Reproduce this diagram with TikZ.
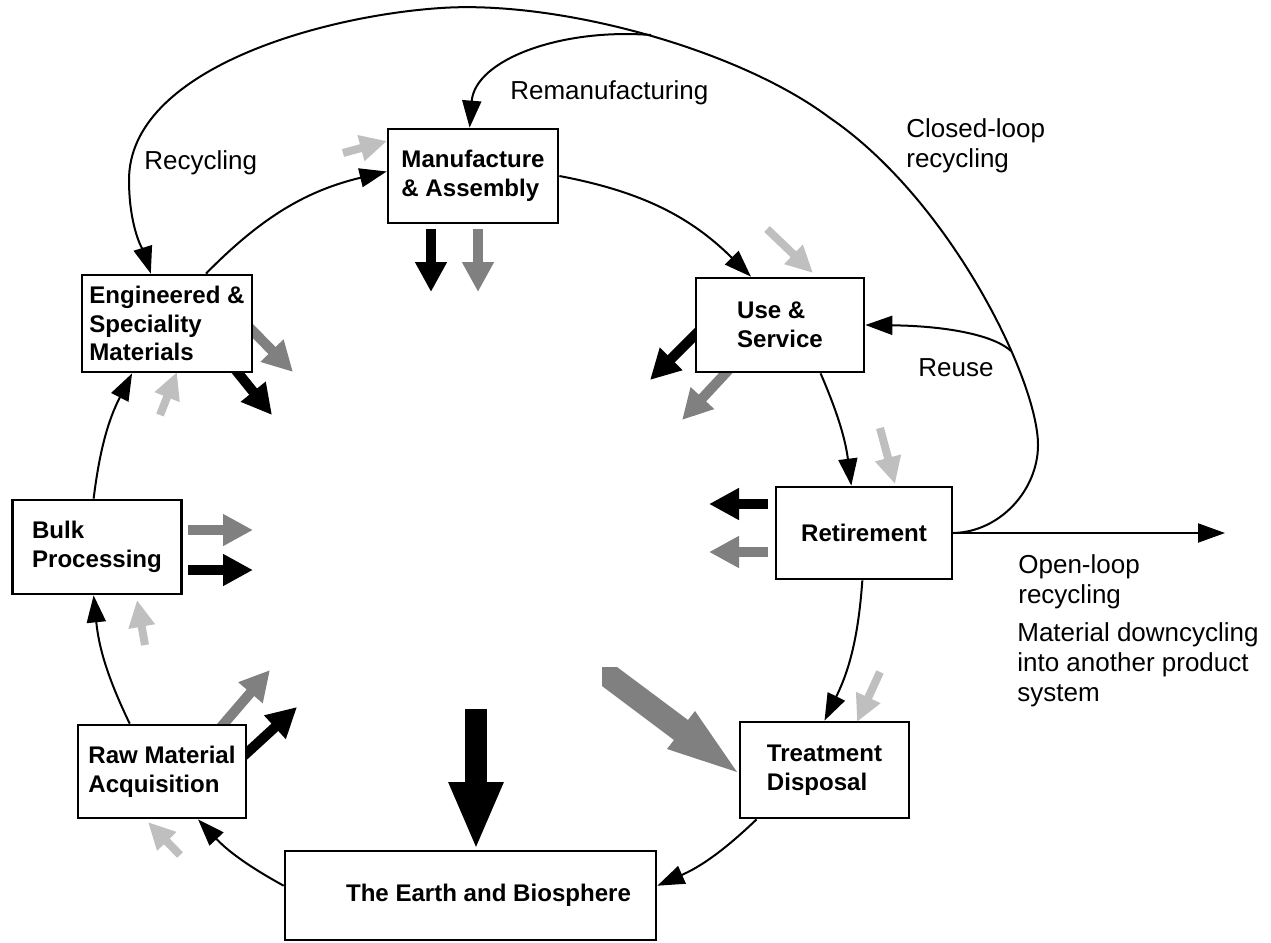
\documentclass[tikz,border=0pt]{standalone}
\usepackage{fontspec}
\setmainfont{Liberation Sans}
\usetikzlibrary{arrows.meta}
\definecolor{dgray}{RGB}{128,128,128}
\definecolor{lgray}{RGB}{191,191,191}
\begin{document}
\begin{tikzpicture}[x=0.02cm,y=0.02cm,
  box/.style={draw=black,line width=0.055cm,fill=white,align=left,inner sep=0pt,
    font=\fontsize{13.7}{16.3}\selectfont\bfseries},
  conn/.style={draw=black,line width=0.04cm,-{Triangle[length=0.54cm,width=0.38cm]}},
  lbl/.style={align=left,anchor=west,inner sep=0pt,font=\fontsize{14.8}{17}\selectfont},
  lite/.style={draw=lgray,color=lgray,line width=0.16cm,-{Triangle[length=0.54cm,width=0.5cm]}},
  med/.style={line width=0.2cm,-{Triangle[length=0.6cm,width=0.6cm]}},
  bigarr/.style={line width=0.44cm,-{Triangle[length=1.36cm,width=1.0cm]}}]

\fill[white] (0,0) rectangle (1271,-943);
\useasboundingbox (0,0) rectangle (1271,-943);

% ---------- free-standing flow arrows: coordinates ----------
\coordinate (l1s) at (343,-153); \coordinate (l1t) at (387,-141);
\coordinate (l2s) at (767,-229); \coordinate (l2t) at (813,-273);
\coordinate (l3s) at (880,-428); \coordinate (l3t) at (895,-484);
\coordinate (l4s) at (880,-672); \coordinate (l4t) at (857,-722);
\coordinate (l5s) at (180,-855); \coordinate (l5t) at (148,-822);
\coordinate (l6s) at (145,-645); \coordinate (l6t) at (137,-600);
\coordinate (l7s) at (160,-415); \coordinate (l7t) at (177,-372);

\coordinate (m1s) at (431,-229); \coordinate (m1t) at (431,-292);
\coordinate (m2s) at (478,-229); \coordinate (m2t) at (478,-292);
\coordinate (m3s) at (712,-318); \coordinate (m3t) at (650,-380);
\coordinate (m4s) at (736,-362); \coordinate (m4t) at (682,-420);
\coordinate (m5s) at (768,-504); \coordinate (m5t) at (709,-504);
\coordinate (m6s) at (768,-552); \coordinate (m6t) at (709,-552);
\coordinate (m7s) at (215,-734); \coordinate (m7t) at (270,-670);
\coordinate (m8s) at (237,-762); \coordinate (m8t) at (297,-707);
\coordinate (m9s) at (188,-530); \coordinate (m9t) at (253,-530);
\coordinate (m10s) at (188,-570); \coordinate (m10t) at (253,-570);
\coordinate (m11s) at (245,-323); \coordinate (m11t) at (293,-372);
\coordinate (m12s) at (230,-363); \coordinate (m12t) at (272,-415);

\coordinate (b1s) at (476,-709); \coordinate (b1t) at (476,-850);

% light grey inputs
\foreach \i in {1,...,7} \draw[lite] (l\i s) -- (l\i t);
% medium outputs
\draw[med,black] (m1s) -- (m1t);
\draw[med,dgray] (m2s) -- (m2t);
\draw[med,black] (m3s) -- (m3t);
\draw[med,dgray] (m4s) -- (m4t);
\draw[med,black] (m5s) -- (m5t);
\draw[med,dgray] (m6s) -- (m6t);
\draw[med,dgray] (m7s) -- (m7t);
\draw[med,black] (m8s) -- (m8t);
\draw[med,dgray] (m9s) -- (m9t);
\draw[med,black] (m10s) -- (m10t);
\draw[med,dgray] (m11s) -- (m11t);
\draw[med,black] (m12s) -- (m12t);
% big arrows
\draw[bigarr,black] (b1s) -- (b1t);
\fill[dgray] (602,-667) -- (617,-667) -- (688,-720) -- (695,-711) -- (737,-772)
  -- (667,-749) -- (674,-740) -- (602,-686) -- cycle;

% ---------- boxes ----------
\node[box,minimum width=3.4cm,minimum height=1.88cm] (MA) at (473,-176) {Manufacture\\\& Assembly};
\node[box,minimum width=3.36cm,minimum height=1.88cm] (US) at (780,-325) {Use \&\\Service};
\node[box,minimum width=3.52cm,minimum height=1.84cm] (RT) at (864,-533) {Retirement};
\node[box,minimum width=3.38cm,minimum height=1.92cm] (TD) at (824.5,-770) {Treatment\\Disposal};
\node[box,minimum width=7.42cm,minimum height=1.78cm] (EB) at (470.5,-895.5) {\hspace*{0.72cm}The Earth and Biosphere};
\node[box,minimum width=3.36cm,minimum height=1.86cm] (RM) at (162,-771.5) {Raw Material\\Acquisition};
\node[box,minimum width=3.38cm,minimum height=1.88cm] (BP) at (97,-547) {Bulk\\Processing};
\node[box,minimum width=3.4cm,minimum height=1.94cm] (ES) at (167,-323.5) {Engineered \&\\Speciality\\Materials};

% ---------- life-cycle connectors ----------
\draw[conn] (ES.52) to[bend left=16] (MA.177);
\draw[conn] (MA.east) to[bend left=17] (US.121);
\draw[conn] (US.-50) to[bend left=8] (RT.105);
\draw[conn] (RT.-92) to[bend left=11] (TD.north);
\draw[conn] (TD.-144) to[bend left=10] (EB.3);
\draw[conn] (EB.177) to[bend left=9] (RM.-53);
\draw[conn] (RM.124) to[bend left=10] (BP.-94);
\draw[conn] (BP.94) to[bend left=10] (ES.-125);

% ---------- recycling loops ----------
\coordinate (reuseJ) at (1011,-351);
\coordinate (remJ) at (651,-35);
\coordinate (olend) at (1225,-533);
\draw[conn] (RT.east) .. controls (1000,-532) and (1038,-490) .. (1038,-445)
  .. controls (1038,-380) and (950,-200) .. (830,-118)
  .. controls (740,-50) and (560,0) .. (441,-8)
  .. controls (320,-16) and (129,-70) .. (129,-180)
  .. controls (129,-230) and (145,-255) .. (ES.108);
\draw[conn] (reuseJ) .. controls (995,-336) and (950,-326) .. (US.east);
\draw[conn] (remJ) .. controls (560,-28) and (475,-60) .. (MA.94);
\draw[conn] (RT.east) -- (olend);

% ---------- labels ----------
\node[lbl] (lRem) at (510,-93) {Remanufacturing};
\node[lbl] (lRec) at (144,-163) {Recycling};
\node[lbl] (lCL) at (906,-146) {Closed-loop\\recycling};
\node[lbl] (lReuse) at (918,-368) {Reuse};
\node[lbl] (lOL) at (1018,-582) {Open-loop\\recycling};
\node[lbl] (lMD) at (1017,-665) {Material downcycling\\into another product\\system};
\end{tikzpicture}
\end{document}
